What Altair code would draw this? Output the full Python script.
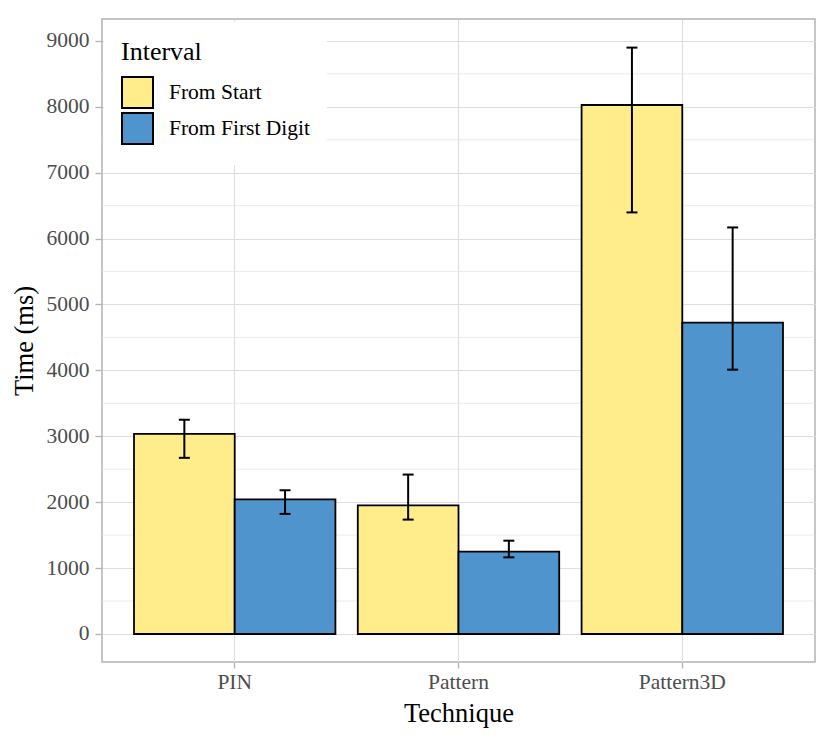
import altair as alt
import pandas as pd

techniques = ["PIN", "Pattern", "Pattern3D"]
intervals = ["From Start", "From First Digit"]

start_mean = [3038, 1953, 8027]
start_lo = [2673, 1736, 6397]
start_hi = [3251, 2419, 8898]

first_mean = [2044, 1249, 4725]
first_lo = [1822, 1163, 4011]
first_hi = [2181, 1416, 6169]

minor_grid = [500, 1500, 2500, 3500, 4500, 5500, 6500, 7500, 8500]
major_ticks = [0, 1000, 2000, 3000, 4000, 5000, 6000, 7000, 8000, 9000]

rows = []
for i, t in enumerate(techniques):
    rows.append({"Technique": t, "Interval": intervals[0], "Time": start_mean[i],
                 "lo": start_lo[i], "hi": start_hi[i]})
    rows.append({"Technique": t, "Interval": intervals[1], "Time": first_mean[i],
                 "lo": first_lo[i], "hi": first_hi[i]})
df = pd.DataFrame(rows)
minor_df = pd.DataFrame({"v": minor_grid})

FONT = "Liberation Serif"
GRID = "#DEDEDE"
AXISGRAY = "#B3B3B3"

yscale = alt.Scale(domain=[-425, 9332], nice=False, zero=False)
yaxis = alt.Axis(title="Time (ms)", values=major_ticks, format="d", grid=True,
                 gridColor=GRID, gridWidth=1.2, domain=False,
                 tickColor=AXISGRAY, tickSize=7, tickWidth=1.3,
                 labelFontSize=21.5, labelColor="#4D4D4D", labelPadding=6,
                 titleFontSize=26.5, titleFontWeight="normal",
                 titleColor="black", titlePadding=8)

x_enc = alt.X("Technique:N", sort=techniques,
              scale=alt.Scale(paddingInner=0.1, paddingOuter=0.143),
              axis=alt.Axis(title="Technique", labelAngle=0, bandPosition=0.5,
                            grid=True, gridColor=GRID, gridWidth=1.2,
                            domain=False, tickColor=AXISGRAY, tickSize=6, tickWidth=1.3,
                            labelFontSize=21.5, labelColor="#4D4D4D", labelPadding=3,
                            titleFontSize=26.5, titleFontWeight="normal",
                            titleColor="black", titlePadding=8))
xo_enc = alt.XOffset("Interval:N", sort=intervals,
                     scale=alt.Scale(domain=intervals, paddingInner=0, paddingOuter=0))

minor = alt.Chart(minor_df).mark_rule(color="#E6E6E6", strokeWidth=0.8).encode(
    y=alt.Y("v:Q", scale=yscale, axis=yaxis)
)

bars = alt.Chart(df).mark_bar(stroke="black", strokeWidth=1.8).encode(
    x=x_enc,
    xOffset=xo_enc,
    y=alt.Y("Time:Q", scale=yscale, axis=yaxis),
    y2=alt.datum(0),
    color=alt.Color("Interval:N", sort=intervals,
                    scale=alt.Scale(domain=intervals, range=["#FFEC8B", "#4F94CD"]),
                    legend=alt.Legend(title="Interval", orient="none", legendX=2, legendY=3,
                                      fillColor="white", padding=17,
                                      titleFontSize=26, titleFontWeight="normal",
                                      titleColor="black", titlePadding=11,
                                      labelFontSize=21.5, labelColor="black",
                                      labelOffset=15, symbolType="square",
                                      symbolSize=961, symbolStrokeColor="black",
                                      symbolStrokeWidth=2, symbolOpacity=1,
                                      rowPadding=-11)),
)

rule = alt.Chart(df).mark_rule(color="black", strokeWidth=2).encode(
    x=x_enc, xOffset=xo_enc,
    y=alt.Y("lo:Q", scale=yscale, axis=yaxis), y2="hi:Q"
)
cap_hi = alt.Chart(df).mark_tick(color="black", thickness=2, size=11, opacity=1).encode(
    x=x_enc, xOffset=xo_enc, y=alt.Y("hi:Q", scale=yscale, axis=yaxis)
)
cap_lo = alt.Chart(df).mark_tick(color="black", thickness=2, size=11, opacity=1).encode(
    x=x_enc, xOffset=xo_enc, y=alt.Y("lo:Q", scale=yscale, axis=yaxis)
)

chart = alt.layer(minor, bars, rule, cap_hi, cap_lo).properties(
    width=713, height=643,
    padding={"left": 3, "top": 11, "right": 6, "bottom": 5},
).configure(font=FONT).configure_view(stroke=AXISGRAY, strokeWidth=1.5)

chart.save("out.html", embed_options={"renderer": "svg", "actions": False})
